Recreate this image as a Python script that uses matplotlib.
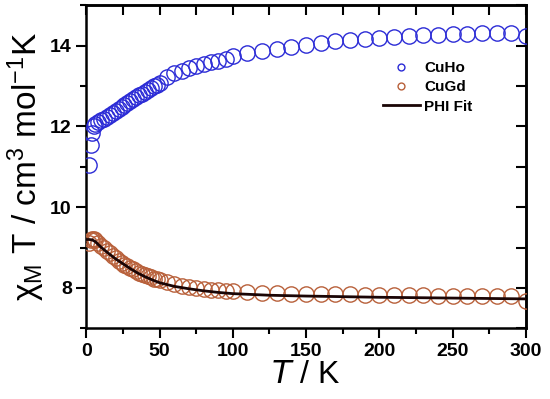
import matplotlib
matplotlib.use("Agg")
import matplotlib.pyplot as plt
from matplotlib.ticker import MultipleLocator

plt.rcParams['font.family'] = ['Liberation Sans', 'DejaVu Sans']
plt.rcParams['mathtext.default'] = 'regular'

# CuHo data
T_ho = [2, 3, 4, 5, 6, 8, 10, 12, 14, 16, 18, 20, 22, 24, 26, 28, 30, 32, 34, 36, 38, 40,
        42, 44, 46, 48, 50, 55, 60, 65, 70, 75, 80, 85, 90, 95, 100, 110, 120, 130, 140,
        150, 160, 170, 180, 190, 200, 210, 220, 230, 240, 250, 260, 270, 280, 290, 300]
chi_ho = [11.05, 11.55, 11.84, 12.0, 12.07, 12.12, 12.15, 12.19, 12.23, 12.28, 12.33, 12.38,
          12.43, 12.48, 12.53, 12.58, 12.63, 12.68, 12.72, 12.77, 12.81, 12.86, 12.90, 12.95,
          12.99, 13.03, 13.08, 13.22, 13.31, 13.38, 13.44, 13.49, 13.55, 13.59, 13.63, 13.68,
          13.73, 13.82, 13.86, 13.92, 13.97, 14.02, 14.07, 14.11, 14.14, 14.17, 14.19, 14.21,
          14.23, 14.25, 14.26, 14.28, 14.29, 14.30, 14.31, 14.31, 14.23]

# CuGd data
T_gd = [2, 3, 4, 5, 6, 8, 10, 12, 14, 16, 18, 20, 22, 24, 26, 28, 30, 32, 34, 36, 38, 40,
        42, 44, 46, 48, 50, 55, 60, 65, 70, 75, 80, 85, 90, 95, 100, 110, 120, 130, 140,
        150, 160, 170, 180, 190, 200, 210, 220, 230, 240, 250, 260, 270, 280, 290, 300]
chi_gd = [9.12, 9.18, 9.20, 9.20, 9.18, 9.12, 9.05, 8.98, 8.92, 8.86, 8.80, 8.74, 8.68, 8.63,
          8.58, 8.54, 8.50, 8.46, 8.42, 8.38, 8.35, 8.32, 8.29, 8.26, 8.23, 8.21, 8.19, 8.14,
          8.10, 8.06, 8.03, 8.00, 7.98, 7.96, 7.94, 7.93, 7.92, 7.90, 7.88, 7.87, 7.86, 7.85,
          7.85, 7.84, 7.84, 7.83, 7.83, 7.82, 7.82, 7.82, 7.81, 7.81, 7.80, 7.80, 7.80, 7.79, 7.68]

# PHI fit
T_fit = [0, 2, 4, 6, 8, 10, 12, 15, 20, 25, 30, 35, 40, 45, 50, 60, 70, 80, 90, 100, 125,
         150, 200, 250, 300]
chi_fit = [9.20, 9.20, 9.19, 9.15, 9.08, 9.01, 8.95, 8.86, 8.72, 8.60, 8.48, 8.37, 8.28, 8.20,
           8.13, 8.04, 7.98, 7.93, 7.89, 7.86, 7.82, 7.80, 7.77, 7.75, 7.73]

fig = plt.figure(figsize=(5.5, 3.99), dpi=100)
ax = fig.add_axes([0.157, 0.177, 0.799, 0.810])

ax.plot(T_ho, chi_ho, 'o', ms=11, mfc='none', mec='#2b2bd6', mew=1.0, label='CuHo', zorder=3)
ax.plot(T_gd, chi_gd, 'o', ms=11, mfc='none', mec='#b8603a', mew=1.0, label='CuGd', zorder=3)
ax.plot(T_fit, chi_fit, '-', color='#1a0505', lw=2.0, label='PHI Fit', zorder=4)

ax.set_xlim(0, 300)
ax.set_ylim(7, 15)
ax.xaxis.set_major_locator(MultipleLocator(50))
ax.xaxis.set_minor_locator(MultipleLocator(25))
ax.yaxis.set_major_locator(MultipleLocator(2))
ax.yaxis.set_minor_locator(MultipleLocator(1))
ax.tick_params(which='both', direction='out', top=False, right=False, width=1.5)
ax.tick_params(which='major', length=7, labelsize=14)
ax.tick_params(which='minor', length=4)
for lab in ax.get_xticklabels() + ax.get_yticklabels():
    lab.set_fontweight('bold')

# mirrored inward ticks on top/right
axt = ax.secondary_xaxis('top')
axt.xaxis.set_major_locator(MultipleLocator(25))
axt.tick_params(direction='in', length=7, width=1.5, labeltop=False)
axr = ax.secondary_yaxis('right')
axr.yaxis.set_major_locator(MultipleLocator(1))
axr.tick_params(direction='in', length=7, width=1.5, labelright=False)

for s in ax.spines.values():
    s.set_linewidth(1.8)
axt.spines['top'].set_linewidth(1.8)
axr.spines['right'].set_linewidth(1.8)

ax.set_xlabel('$\\mathit{T}$ / K', fontsize=23, labelpad=0)
ax.set_ylabel('$\\chi_M$ T / cm$^3$ mol$^{-1}$K', fontsize=24, labelpad=2)

leg = ax.legend(loc='upper right', bbox_to_anchor=(0.91, 0.87), frameon=False,
                markerscale=0.45, prop={'weight': 'bold', 'size': 11},
                handlelength=2.4, handletextpad=0.3, labelspacing=0.35)

fig.savefig('out.png', dpi=100)
